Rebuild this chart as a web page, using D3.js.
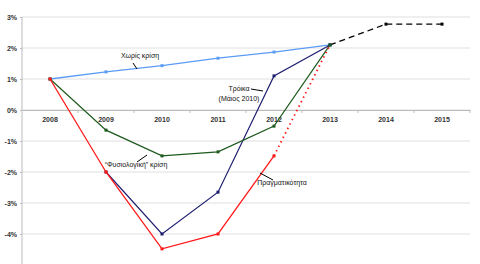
<!DOCTYPE html>
<html>
<head>
<meta charset="utf-8">
<script src="https://cdn.jsdelivr.net/npm/d3@7"></script>
<style>
  body { margin: 0; background: #fff; }
  svg text { font-family: "Liberation Sans", Arial, sans-serif; }
</style>
</head>
<body>
<div id="chart"></div>
<script>
var years = ["2008", "2009", "2010", "2011", "2012", "2013", "2014", "2015"];
var yTicks = [3, 2, 1, 0, -1, -2, -3, -4];

// values in %
var noCrisis   = [1.0, 1.23, 1.43, 1.67, 1.87, 2.1];
var normal     = [1.0, -0.65, -1.48, -1.35, -0.52, 2.1];
var troika     = [null, -2.0, -4.0, -2.65, 1.1, 2.1];
var reality    = [1.0, -2.0, -4.48, -4.0, -1.48];
var realityEnd = [null, null, null, null, -1.48, 2.1];
var forecast   = [null, null, null, null, null, 2.1, 2.77, 2.77];

var labels = {
  noCrisis: "Χωρίς κρίση",
  troika: ["Τρόικα", "(Μάιος 2010)"],
  normal: "“Φυσιολογική” κρίση",
  reality: "Πραγματικότητα"
};

var width = 480, height = 264;
var left = 22, right = 470;

var svg = d3.select("#chart").append("svg")
    .attr("width", width)
    .attr("height", height);

var x = d3.scaleBand().domain(years).range([left, right]).padding(0);
var y = d3.scaleLinear().domain([-5, 3]).range([265, 17]);

function cx(i) { return x(years[i]) + x.bandwidth() / 2; }

// gridlines
svg.append("g")
  .selectAll("line")
  .data(yTicks)
  .enter().append("line")
    .attr("x1", left).attr("x2", right)
    .attr("y1", function(d) { return y(d); })
    .attr("y2", function(d) { return y(d); })
    .style("stroke", "#e0e0e0")
    .style("stroke-width", 1.2);

// y axis
var yAxis = svg.append("g")
    .attr("transform", "translate(" + left + ",0)")
    .call(d3.axisLeft(y).tickValues(yTicks).tickSize(2)
      .tickFormat(function(d) { return d + "%"; }));
yAxis.select(".domain").attr("d", "M0,17V264").style("stroke", "#bbb");
yAxis.selectAll(".tick line").style("stroke", "#bbb");
yAxis.selectAll(".tick text")
    .attr("x", -5)
    .style("font-size", "7px")
    .style("font-weight", "bold")
    .style("fill", "#333");

// x axis at 0
var xAxis = svg.append("g")
    .attr("transform", "translate(0," + y(0) + ")")
    .call(d3.axisBottom(x).tickSize(0).tickPadding(7));
xAxis.select(".domain").style("stroke", "#bbb");
xAxis.selectAll(".tick text")
    .style("font-size", "7px")
    .style("font-weight", "bold")
    .style("fill", "#333");
// boundary ticks
svg.append("g")
  .selectAll("line")
  .data(years)
  .enter().append("line")
    .attr("x1", function(d) { return x(d) + x.bandwidth(); })
    .attr("x2", function(d) { return x(d) + x.bandwidth(); })
    .attr("y1", y(0)).attr("y2", y(0) + 3)
    .style("stroke", "#bbb");

var line = d3.line()
    .defined(function(d) { return d != null; })
    .x(function(d, i) { return cx(i); })
    .y(function(d) { return y(d); });

function drawSeries(data, color, dash, width, marks) {
  svg.append("path")
    .datum(data)
    .attr("d", line)
    .style("fill", "none")
    .style("stroke", color)
    .style("stroke-width", width)
    .style("stroke-dasharray", dash);
  if (!marks) return;
  svg.append("g")
    .selectAll("rect")
    .data(data.map(function(v, i) { return {v: v, i: i}; })
      .filter(function(d) { return d.v != null; }))
    .enter().append("rect")
      .attr("x", function(d) { return cx(d.i) - 1.5; })
      .attr("y", function(d) { return y(d.v) - 1.5; })
      .attr("width", 3).attr("height", 3)
      .style("fill", color);
}

drawSeries(noCrisis, "#5b9cf5", null, 1.3, true);
drawSeries(forecast, "#000", "6,4", 1.3, false);
drawSeries(troika, "#1f1f70", null, 1.2, true);
drawSeries(normal, "#1d5a1d", null, 1.2, true);
drawSeries(realityEnd, "#ff1a1a", "1.5,3.5", 1.8, false);
drawSeries(reality, "#ff1a1a", null, 1.3, true);
// forecast markers (2014, 2015)
drawSeries(forecast.map(function(v, i) { return i > 5 ? v : null; }), "#000", "0,100", 0, true);

// annotations
function note(lines, tx, ty, anchor, lx1, ly1, lx2, ly2) {
  var t = svg.append("text")
      .attr("x", tx).attr("y", ty)
      .attr("text-anchor", anchor)
      .style("font-size", "7px")
      .style("fill", "#111");
  [].concat(lines).forEach(function(s, k) {
    t.append("tspan").attr("x", tx).attr("dy", k ? 9.5 : 0).text(s);
  });
  svg.append("line")
    .attr("x1", lx1).attr("y1", ly1).attr("x2", lx2).attr("y2", ly2)
    .style("stroke", "#000").style("stroke-width", 1);
}

note(labels.noCrisis, 140, 58, "middle", 133, 63, 137, 69);
note(labels.troika, 239, 91, "middle", 251, 89, 263, 91);
note(labels.normal, 136, 167, "middle", 137, 162, 147, 155);
note(labels.reality, 282, 185, "middle", 260, 173, 273, 180);
</script>
</body>
</html>
